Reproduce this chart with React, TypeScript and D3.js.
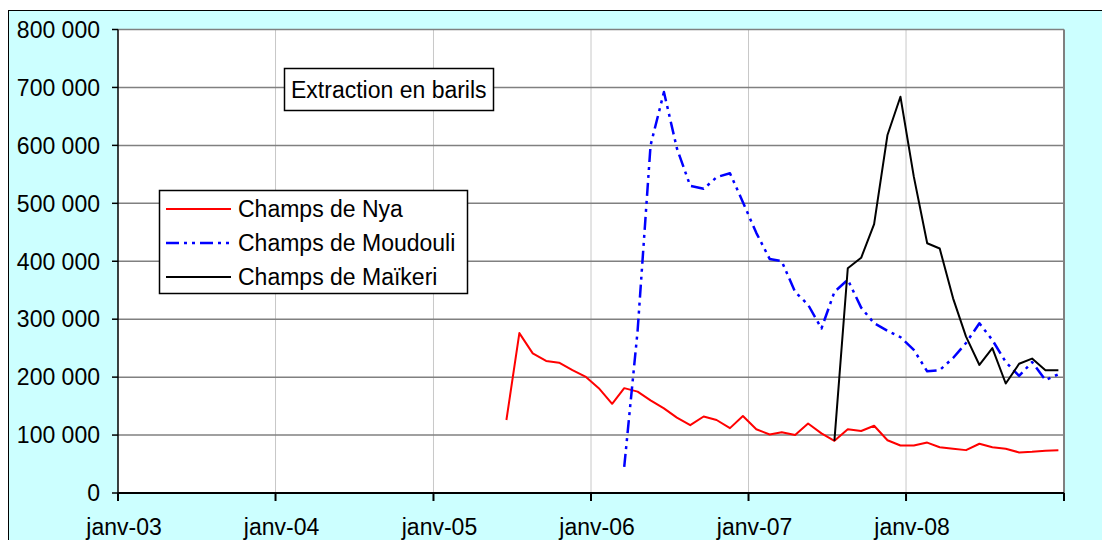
import React from 'react';
import * as d3 from 'd3';

// monthly extraction, in barrels, one value per month from the start month
const nyaStart = '2005-06';
const nyaValues = [
  126000, 276000, 241000, 228000, 225000, 212000, 201000,
  181000, 154000, 181000, 175000, 160000, 146000, 130000, 117000, 132000, 126000, 112000, 133000,
  110000, 101000, 105000, 100000, 120000, 103000, 90000, 110000, 107000, 116000, 91000, 82000,
  82000, 87000, 79000, 76500, 74000, 85000, 79000, 76500, 70000, 71000, 73000, 74000,
];

const moudouliStart = '2006-03';
const moudouliValues = [
  45000, 280000, 600000, 692000, 595000, 530000, 525000, 545000, 552000, 502000,
  449000, 404000, 400000, 347000, 325000, 284000, 347000, 368000, 320000, 293000, 280000, 269000,
  247000, 210000, 212000, 233000, 259000, 293000, 264000, 226000, 202000, 226000, 195000, 205000,
];

const maikeriStart = '2007-07';
const maikeriValues = [
  90000, 388000, 406000, 464000, 618000, 684000,
  546000, 431000, 422000, 336000, 270000, 221000, 250000, 189000, 223000, 232000, 212000, 212000,
];

const seriesNames = ['Champs de Nya', 'Champs de Moudouli', 'Champs de Maïkeri'];
const yTicks = [0, 100000, 200000, 300000, 400000, 500000, 600000, 700000, 800000];
const xTickYears = [2003, 2004, 2005, 2006, 2007, 2008, 2009];
const title = 'Extraction en barils';

const W = 1102;
const H = 540;
const left = 118;
const right = 1064;
const top = 29.5;
const bottom = 493;
const font = '"Liberation Sans", Arial, sans-serif';

const parseMonth = d3.timeParse('%Y-%m');

function toPoints(start: string, values: number[]) {
  const s = parseMonth(start) as Date;
  return values.map((v, i) => {
    const d = d3.timeMonth.offset(s, i);
    return { date: new Date(d.getFullYear(), d.getMonth(), 19), value: v };
  });
}

const x = d3.scaleTime().domain([new Date(2003, 0, 1), new Date(2009, 0, 1)]).range([left, right]);
const y = d3.scaleLinear().domain([0, 800000]).range([bottom, top]);
const fmt = (v: number) => d3.format(',')(v).replace(/,/g, ' ');

const line = d3.line<{ date: Date; value: number }>()
  .x((d) => x(d.date))
  .y((d) => y(d.value));

const styles = [
  { stroke: '#ff0000', width: 2, dash: undefined as string | undefined },
  { stroke: '#0000ff', width: 2.5, dash: '13,5,3,5,3,5' },
  { stroke: '#000000', width: 2, dash: undefined as string | undefined },
];

export default function App() {
  const series = [
    toPoints(nyaStart, nyaValues),
    toPoints(moudouliStart, moudouliValues),
    toPoints(maikeriStart, maikeriValues),
  ];
  const years = xTickYears.map((yr) => new Date(yr, 0, 1));

  return (
    <svg width={W} height={H} style={{ position: 'absolute', left: 0, top: 0 }} fontFamily={font}>
      <rect x={8.5} y={10.5} width={1100} height={560} fill="#ccffff" stroke="#000" strokeWidth={1} />
      <rect x={left} y={top} width={right - left} height={bottom - top} fill="#fff" />

      {/* vertical grid */}
      {years.slice(1, -1).map((d, i) => (
        <line key={'vg' + i} x1={x(d)} x2={x(d)} y1={top} y2={bottom} stroke="#c8c8c8" strokeWidth={1} />
      ))}
      {/* horizontal grid */}
      {yTicks.slice(1).map((t) => (
        <line key={'hg' + t} x1={left} x2={right} y1={y(t)} y2={y(t)} stroke="#808080" strokeWidth={1.5} />
      ))}
      <line x1={right} x2={right} y1={top} y2={bottom} stroke="#808080" strokeWidth={2} />

      {/* axes */}
      <line x1={left} x2={left} y1={top} y2={bottom} stroke="#000" strokeWidth={1.5} />
      <line x1={left} x2={right} y1={bottom} y2={bottom} stroke="#000" strokeWidth={2} />
      {yTicks.map((t) => (
        <g key={'yt' + t}>
          <line x1={left - 6} x2={left} y1={y(t)} y2={y(t)} stroke="#000" strokeWidth={1.5} />
          <text x={100} y={y(t)} dy="0.36em" textAnchor="end" fontSize={23} fill="#000">
            {fmt(t)}
          </text>
        </g>
      ))}
      {years.map((d, i) => (
        <g key={'xt' + i}>
          <line x1={x(d)} x2={x(d)} y1={bottom} y2={bottom + 8} stroke="#000" strokeWidth={2} />
          {i < years.length - 1 && (
            <text x={x(d) + 6} y={535} textAnchor="middle" fontSize={23} fill="#000">
              {d3.timeFormat('janv-%y')(d)}
            </text>
          )}
        </g>
      ))}

      {/* series */}
      {series.map((pts, i) => (
        <path
          key={'s' + i}
          d={line(pts) || ''}
          fill="none"
          stroke={styles[i].stroke}
          strokeWidth={styles[i].width}
          strokeDasharray={styles[i].dash}
          strokeLinejoin="round"
        />
      ))}

      {/* title box */}
      <rect x={284.5} y={68.5} width={209} height={42} fill="#fff" stroke="#000" strokeWidth={1.5} />
      <text x={291} y={89.5} dy="0.36em" fontSize={23} fill="#000">{title}</text>

      {/* legend */}
      <rect x={159.5} y={190.5} width={308} height={103} fill="#fff" stroke="#000" strokeWidth={1.5} />
      {seriesNames.map((name, i) => {
        const ly = 209 + i * 34;
        return (
          <g key={'lg' + i}>
            <line
              x1={166}
              x2={231}
              y1={ly}
              y2={ly}
              stroke={styles[i].stroke}
              strokeWidth={styles[i].width}
              strokeDasharray={styles[i].dash}
            />
            <text x={238} y={ly} dy="0.36em" fontSize={23} fill="#000">{name}</text>
          </g>
        );
      })}
    </svg>
  );
}
